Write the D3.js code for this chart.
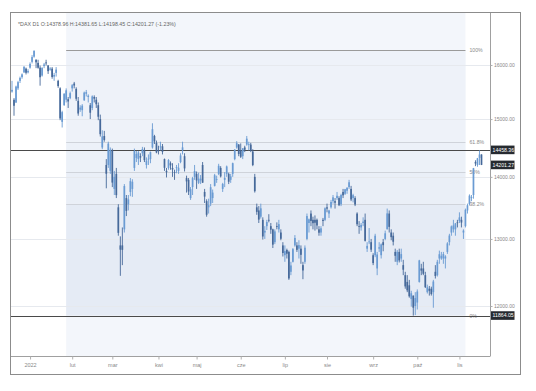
<!DOCTYPE html>
<html>
<head>
<meta charset="utf-8">
<script src="https://cdn.jsdelivr.net/npm/d3@7"></script>
<style>
  body { margin: 0; background: #fff; }
  text { font-family: "Liberation Sans", Arial, sans-serif; }
</style>
</head>
<body>
<svg id="chart" width="536" height="391"></svg>
<script>
// ---- data ----
var firstDay = "2021-12-17", lastDay = "2022-11-16";
var holidays = ["2021-12-24", "2021-12-31", "2022-04-15", "2022-04-18"];
var monthLabels = ["2022", "lut", "mar", "kwi", "maj", "cze", "lip", "sie", "wrz", "paź", "lis"];
var yTicks = [12000, 13000, 14000, 15000, 16000];
var header = "*DAX D1 O:14378.96 H:14381.65 L:14198.45 C:14201.27 (-1.23%)";

var fibHigh = 16290, fibLow = 11864.05;
var fibLevels = [1, 0.618, 0.5, 0.382, 0];
var fibLabels = ["100%", "61.8%", "50%", "38.2%", "0%"];
var fibFrom = "2022-01-27", fibTo = "2022-11-04";
var markLine = 14458.36;

var opens = [
  15500,15350,15300,15560,15700,15770,15860,15930,15860,
  15950,16060,16160,16100,16040,15950,15800,15980,16050,15990,15910,15930,15780,15850,15700,15560,14950,15250,15350,15360,15380,
  15560,15650,15550,15330,15170,15160,15340,15460,15400,15250,15200,15400,15350,15250,15000,14500,14700,14200,14200,14100,
  14450,13800,14050,13500,12900,12900,13150,13650,13550,13750,13800,14150,14320,14300,14350,14400,14450,14200,14300,14300,14500,14700,14580,
  14450,14500,14520,14300,14100,14150,14230,14150,14080,14150,14100,14250,14450,14350,13980,13950,13650,13830,14000,
  14050,13900,13940,14200,13750,13600,13500,13560,13650,13850,13960,14050,14150,13800,13950,14050,14050,13950,14050,14300,14500,14550,
  14450,14350,14500,14550,14550,14550,14430,14000,13500,13450,13350,13300,13100,13200,13300,13200,13150,12950,13200,13150,13100,12900,
  12750,12830,12800,12500,12650,12900,12900,12850,12850,12600,12650,13000,13250,13400,13300,13300,13300,13150,13100,13300,13300,
  13500,13400,13500,13600,13600,13650,13650,13550,13750,13720,13770,13830,13800,13650,13650,13400,13200,13180,13250,13300,12850,12950,12950,
  12750,12750,12550,12850,12750,12950,13000,13150,13400,13100,13050,12800,12650,12800,12700,12600,12450,12350,12300,12100,12150,12000,
  12050,12350,12550,12550,12450,12200,12250,12250,12200,12500,12450,12700,12700,12700,12700,12800,12950,13100,13150,13150,13260,
  13280,13300,13100,13200,13450,13550,13650,13700,14250,14200,14320,14378.96
];
var highs = [
  15700,15380,15610,15700,15780,15840,15980,15950,15920,
  16050,16190,16285,16110,16100,15990,15960,16040,16100,16000,15960,15960,15850,15960,15720,15580,15150,15470,15560,15400,15500,
  15640,15680,15580,15400,15250,15270,15500,15530,15450,15290,15430,15430,15400,15300,15080,14800,14790,14300,14600,14500,
  14480,14100,14150,13550,13040,13180,13880,13700,13700,13980,13960,14480,14440,14440,14400,14510,14500,14330,14380,14430,14925,14720,14620,
  14530,14600,14560,14310,14150,14300,14260,14230,14120,14200,14230,14400,14600,14400,14020,13980,13830,14000,14200,
  14090,14070,14030,14250,13800,13630,13640,13880,13790,14050,14020,14220,14180,13900,14080,14190,14070,14050,14240,14470,14610,14560,
  14570,14490,14530,14700,14600,14580,14470,14050,13560,13520,13560,13340,13200,13300,13390,13250,13160,13150,13260,13300,13150,12950,
  12900,12850,12820,12650,12860,13060,12950,12980,12900,12650,12900,13400,13320,13450,13350,13370,13320,13200,13200,13330,13500,
  13560,13460,13620,13700,13650,13750,13680,13720,13800,13800,13830,13950,13850,13720,13680,13420,13280,13250,13340,13400,12950,13170,13000,
  12780,13080,12800,12950,12930,13000,13130,13480,13450,13150,13100,12850,12830,12850,12850,12680,12500,12450,12380,12220,12150,12200,
  12240,12680,12620,12650,12500,12310,12290,12280,12380,12600,12680,12820,12800,12800,12750,12950,13080,13210,13300,13250,13300,
  13420,13350,13150,13480,13560,13710,13700,14150,14280,14320,14450,14381.65
];
var lows = [
  15480,15060,15290,15530,15660,15740,15850,15820,15840,
  15930,16030,16140,15940,15930,15610,15780,15940,15990,15830,15890,15740,15700,15780,15570,14980,14850,15240,15300,15200,15360,
  15500,15560,15330,15060,15130,15050,15330,15410,15300,15000,15160,15300,15200,14980,14690,14470,14600,13810,14150,14050,
  13830,13700,13650,13050,12440,12600,13100,13360,13450,13680,13670,14100,14250,14200,14250,14350,14250,14140,14200,14230,14480,14560,14400,
  14380,14450,14380,14100,13990,14120,14120,14000,13950,14060,14050,14230,14380,14090,13740,13700,13620,13700,13950,
  13800,13880,13880,13900,13570,13350,13400,13520,13570,13840,13900,14030,13990,13750,13830,14000,13880,13900,14000,14280,14480,14350,
  14320,14300,14420,14530,14450,14420,14180,13740,13380,13250,13320,12990,13000,13140,13260,13080,12860,12920,13150,13100,12980,12730,
  12650,12700,12380,12450,12640,12880,12800,12700,12620,12390,12620,12980,13100,13200,13150,13130,13150,13050,13050,13200,13280,
  13420,13330,13480,13560,13480,13620,13520,13520,13650,13700,13720,13800,13600,13580,13520,13200,13080,13130,13200,12960,12800,12920,12800,
  12600,12720,12450,12800,12700,12810,12980,13150,13100,12980,12900,12650,12600,12640,12650,12450,12250,12200,12120,11990,11863,11870,
  11950,12340,12450,12450,12260,12180,12150,12150,11975,12400,12430,12620,12680,12620,12550,12770,12900,13050,13100,13050,13180,
  13250,13180,13000,13180,13400,13530,13600,13640,14180,14170,14200,14198.45
];
var closes = [
  15532,15240,15593,15676,15756,15822,15964,15852,15885,
  16021,16152,16271,16052,15948,15768,15942,16010,16031,15883,15934,15773,15810,15912,15603,15011,15124,15460,15524,15318,15471,
  15619,15613,15368,15100,15207,15242,15482,15490,15425,15114,15412,15370,15268,15042,14731,14693,14631,14052,14567,14461,
  13905,14001,13698,13095,12835,12832,13848,13443,13628,13929,13918,14441,14388,14413,14326,14473,14283,14274,14306,14418,14820,14605,14415,
  14446,14519,14425,14152,14078,14284,14193,14124,14076,14164,14153,14362,14502,14142,13924,13757,13795,13979,14098,
  13940,13971,13970,13903,13674,13381,13535,13828,13740,14027,13964,14186,14008,13882,13982,14175,13919,14008,14231,14462,14575,14388,
  14340,14485,14460,14653,14556,14446,14199,13762,13427,13304,13484,13038,13126,13265,13292,13145,12912,13118,13186,13232,13003,12784,
  12813,12773,12401,12595,12843,13015,12832,12905,12756,12520,12865,13360,13308,13282,13247,13254,13211,13097,13166,13282,13484,
  13479,13449,13587,13662,13574,13688,13535,13700,13695,13795,13817,13910,13627,13697,13545,13230,13194,13220,13272,12971,12893,12961,12835,
  12631,13050,12761,12872,12916,12904,13088,13403,13189,13028,12957,12741,12803,12671,12767,12531,12284,12227,12140,12184,11976,12114,
  12209,12671,12518,12471,12273,12272,12220,12172,12356,12438,12650,12765,12741,12767,12731,12931,13053,13196,13211,13243,13253,
  13339,13257,13130,13460,13533,13689,13666,14146,14225,14314,14379,14201.27
];

// ---- layout ----
var svg = d3.select("#chart");
var left = 10, plotTop = 12, plotRight = 490, plotBottom = 356, outerRight = 520, outerBottom = 374;

var fmtDay = d3.timeFormat("%Y-%m-%d");
var parseDay = d3.timeParse("%Y-%m-%d");
var dates = d3.timeDay.range(parseDay(firstDay), d3.timeDay.offset(parseDay(lastDay), 1))
  .filter(function(d) { return d.getDay() !== 0 && d.getDay() !== 6 && holidays.indexOf(fmtDay(d)) < 0; })
  .map(fmtDay);

var bars = dates.map(function(d, i) {
  return { date: d, o: opens[i], h: highs[i], l: lows[i], c: closes[i] };
});

var x = d3.scalePoint().domain(dates).range([12, 481.5]);
var y = d3.scaleLog().domain([12000, 16000]).range([306, 65]);

// month starts (first trading day of each month in 2022)
var monthStarts = dates.filter(function(d, i) {
  return i > 0 && d.slice(5, 7) !== dates[i - 1].slice(5, 7) && d >= "2022-01-01";
});

// plot background
svg.append("rect").attr("x", left).attr("y", plotTop)
  .attr("width", plotRight - left).attr("height", plotBottom - plotTop).attr("fill", "#fff");

// fibonacci date band
var fx0 = x(fibFrom), fx1 = x(fibTo);
svg.append("rect").attr("x", fx0).attr("y", plotTop)
  .attr("width", fx1 - fx0).attr("height", plotBottom - plotTop).attr("fill", "#f3f6fb");

var fibPrice = function(r) { return fibLow + r * (fibHigh - fibLow); };
var zoneColors = ["#eef2f9", "#ecf1f8", "#eaeff7", "#e5ebf5"];
for (var k = 0; k < fibLevels.length - 1; k++) {
  svg.append("rect")
    .attr("x", fx0).attr("width", fx1 - fx0)
    .attr("y", y(fibPrice(fibLevels[k])))
    .attr("height", y(fibPrice(fibLevels[k + 1])) - y(fibPrice(fibLevels[k])))
    .attr("fill", zoneColors[k]);
}

// grid lines
svg.append("g").selectAll("line").data(yTicks).join("line")
  .attr("x1", left).attr("x2", plotRight)
  .attr("y1", function(d) { return Math.round(y(d)) + 0.5; })
  .attr("y2", function(d) { return Math.round(y(d)) + 0.5; })
  .attr("stroke", "#e6e9ee").attr("stroke-width", 1);

// fib lines + labels
var fib = svg.append("g").attr("class", "fib");
fibLevels.forEach(function(r, i) {
  var yy = Math.round(y(fibPrice(r))) + 0.5;
  fib.append("line")
    .attr("x1", fx0).attr("x2", fx1).attr("y1", yy).attr("y2", yy)
    .attr("stroke", r === 1 ? "#9a9a9a" : (r === 0 ? "#666" : "#cfd3da"))
    .attr("stroke-width", r === 1 ? 1.2 : 1);
  fib.append("text")
    .attr("x", fx1 + 4).attr("y", yy + 1.8)
    .attr("font-size", 5.2).attr("fill", "#8a8a8a")
    .text(fibLabels[i]);
});

// full-width horizontal lines
[markLine, fibLow].forEach(function(v) {
  var yy = Math.round(y(v)) + 0.5;
  svg.append("line").attr("x1", left).attr("x2", plotRight)
    .attr("y1", yy).attr("y2", yy)
    .attr("stroke", "#4a4a4a").attr("stroke-width", 1.1);
});

// candles
var upColor = "#6a9bd3", downColor = "#46699a";
var candles = svg.append("g").selectAll("g").data(bars).join("g")
  .attr("stroke", function(d) { return d.c >= d.o ? upColor : downColor; })
  .attr("fill", function(d) { return d.c >= d.o ? upColor : downColor; });
candles.append("line")
  .attr("x1", function(d) { return x(d.date); })
  .attr("x2", function(d) { return x(d.date); })
  .attr("y1", function(d) { return y(d.h); })
  .attr("y2", function(d) { return y(d.l); })
  .attr("stroke-width", 0.9);
candles.append("rect")
  .attr("x", function(d) { return x(d.date) - 0.85; })
  .attr("width", 1.7)
  .attr("y", function(d) { return y(Math.max(d.o, d.c)); })
  .attr("height", function(d) { return Math.max(0.8, Math.abs(y(d.o) - y(d.c))); })
  .attr("stroke", "none");

// frame lines
svg.append("line").attr("x1", plotRight + 0.5).attr("x2", plotRight + 0.5)
  .attr("y1", plotTop).attr("y2", plotBottom).attr("stroke", "#a0a0a0");
svg.append("line").attr("x1", left).attr("x2", plotRight + 0.5)
  .attr("y1", plotBottom + 0.5).attr("y2", plotBottom + 0.5).attr("stroke", "#a0a0a0");
svg.append("rect").attr("x", left + 0.5).attr("y", plotTop + 0.5)
  .attr("width", outerRight - left).attr("height", outerBottom - plotTop)
  .attr("fill", "none").attr("stroke", "#8c8c8c");

// y axis (right)
var yAxis = svg.append("g").attr("transform", "translate(" + (plotRight + 0.5) + ",0)")
  .call(d3.axisRight(y).tickValues(yTicks).tickFormat(d3.format(".2f")).tickSize(2).tickPadding(1.5));
yAxis.select(".domain").remove();
yAxis.selectAll("line").attr("stroke", "#b0b0b0");
yAxis.selectAll("text").attr("font-size", 5).attr("fill", "#888")
  .attr("font-family", "'Liberation Sans', Arial, sans-serif");

// x axis (bottom)
var xAxis = svg.append("g").attr("transform", "translate(0," + (plotBottom + 0.5) + ")")
  .call(d3.axisBottom(x).tickValues(monthStarts)
    .tickFormat(function(d, i) { return monthLabels[i]; }).tickSize(3).tickPadding(4));
xAxis.select(".domain").remove();
xAxis.selectAll("line").attr("stroke", "#b0b0b0");
xAxis.selectAll("text").attr("font-size", 5.5).attr("fill", "#888")
  .attr("font-family", "'Liberation Sans', Arial, sans-serif");

// price tags
[[markLine, "14458.36"], [closes[closes.length - 1], "14201.27"], [fibLow, "11864.05"]].forEach(function(p) {
  var yy = y(p[0]);
  svg.append("rect").attr("x", plotRight + 1).attr("y", yy - 4.3)
    .attr("width", 23.5).attr("height", 8.6).attr("fill", "#262a30");
  svg.append("text").attr("x", plotRight + 2.5).attr("y", yy + 1.9)
    .attr("font-size", 5.2).attr("fill", "#fff").text(p[1]);
});

// header
svg.append("text").attr("x", 18).attr("y", 26)
  .attr("font-size", 5.3).attr("fill", "#666").text(header);
</script>
</body>
</html>
